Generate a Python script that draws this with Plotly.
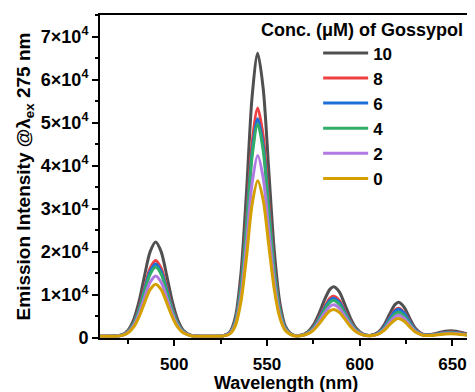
import plotly.graph_objects as go

wavelength = [460, 464, 468, 472, 475, 478, 481, 484, 487, 490, 493, 496, 499, 502, 505, 509, 514, 520,
              526, 530, 533, 536, 539, 542, 545, 548, 551, 554, 557, 560, 564, 568, 572, 575, 578, 581,
              584, 586, 589, 592, 595, 598, 602, 606, 610, 613, 616, 619, 621, 624, 627, 630, 634, 638,
              642, 646, 649, 652, 656, 660]

conc_10 = [400, 404, 455, 794, 1758, 4101, 8459, 14438, 20000, 22300, 20000, 14438, 8459, 4101, 1758, 654, 418, 400,
           479, 1418, 4933, 15051, 34104, 56048, 66100, 57822, 38769, 19979, 8087, 2700, 731, 633, 1424, 2976, 5621, 8841,
           11348, 11900, 10693, 7772, 4632, 2344, 896, 625, 1318, 2920, 5456, 7747, 8300, 7123, 4555, 2283, 900, 796,
           1167, 1579, 1700, 1579, 1167, 751]
conc_8 = [400, 404, 444, 717, 1491, 3374, 6877, 11682, 16152, 18000, 16152, 11682, 6877, 3374, 1491, 604, 414, 400,
          464, 1222, 4057, 12219, 27589, 45291, 53400, 46722, 31352, 16194, 6601, 2255, 667, 588, 1228, 2483, 4622, 7226,
          9254, 9700, 8724, 6361, 3822, 1972, 801, 584, 1155, 2474, 4560, 6445, 6900, 5932, 3819, 1948, 806, 707,
          990, 1307, 1400, 1307, 990, 670]
conc_6 = [400, 403, 442, 702, 1442, 3239, 6582, 11169, 15436, 17200, 15436, 11169, 6582, 3239, 1442, 595, 413, 400,
          461, 1183, 3885, 11662, 26307, 43174, 50900, 44537, 29892, 15449, 6309, 2168, 654, 578, 1183, 2371, 4395, 6859,
          8778, 9200, 8276, 6041, 3638, 1887, 780, 576, 1132, 2410, 4432, 6259, 6700, 5761, 3714, 1898, 787, 679,
          931, 1216, 1300, 1216, 931, 643]
conc_4 = [400, 403, 440, 690, 1398, 3121, 6325, 10720, 14810, 16500, 14810, 10720, 6325, 3121, 1398, 587, 413, 400,
          459, 1164, 3802, 11394, 25691, 42157, 49700, 43488, 29191, 15091, 6168, 2126, 648, 569, 1139, 2259, 4168, 6492,
          8302, 8700, 7829, 5720, 3454, 1803, 758, 561, 1051, 2186, 3984, 5608, 6000, 5166, 3346, 1732, 744, 648,
          872, 1126, 1200, 1126, 872, 616]
conc_2 = [400, 403, 435, 652, 1268, 2766, 5552, 9374, 12930, 14400, 12930, 9374, 5552, 2766, 1268, 562, 411, 400,
          450, 1051, 3298, 9766, 21946, 35974, 42400, 37108, 24928, 12916, 5314, 1870, 611, 548, 1050, 2035, 3714, 5758,
          7350, 7700, 6934, 5079, 3086, 1634, 715, 541, 970, 1963, 3536, 4957, 5300, 4570, 2977, 1566, 701, 617,
          813, 1035, 1100, 1035, 813, 589]
conc_0 = [400, 402, 430, 618, 1150, 2445, 4853, 8156, 11230, 12500, 11230, 8156, 4853, 2445, 1150, 540, 410, 400,
          443, 960, 2891, 8450, 18919, 30977, 36500, 31951, 21482, 11158, 4624, 1664, 582, 526, 952, 1789, 3215, 4951,
          6302, 6600, 5949, 4374, 2682, 1448, 667, 519, 877, 1708, 3024, 4213, 4500, 3889, 2557, 1376, 653, 585,
          754, 944, 1000, 944, 754, 562]

series_names = ["10", "8", "6", "4", "2", "0"]
series_values = [conc_10, conc_8, conc_6, conc_4, conc_2, conc_0]
series_colors = ["#505050", "#ee4040", "#1d6fd8", "#30ad68", "#b07ae2", "#d4a000"]

y_tickvals = [0, 10000, 20000, 30000, 40000, 50000, 60000, 70000]
y_ticktext = ["<b>0</b>"] + ["<b>%d×10<sup>4</sup></b>" % i for i in range(1, 8)]
x_tickvals = [500, 550, 600, 650]

FONT = "Liberation Sans, Arial, sans-serif"

fig = go.Figure()
for i, (name, vals, col) in enumerate(zip(series_names, series_values, series_colors)):
    fig.add_trace(go.Scatter(
        x=wavelength, y=vals, mode="lines", name="<b>%s</b>" % name,
        line=dict(color=col, width=3, shape="spline", smoothing=0.8),
        legendgroup="g%d" % i,
    ))

# page body has an 8px margin, so the figure is sized to fit the remaining window
fig.update_layout(
    width=467, height=384,
    margin=dict(l=92, r=4, t=7, b=54),
    paper_bgcolor="white", plot_bgcolor="white",
    font=dict(family=FONT, size=18, color="black"),
    showlegend=True,
    legend=dict(
        x=0.588, y=0.937, xanchor="left", yanchor="top",
        bgcolor="rgba(0,0,0,0)", borderwidth=0,
        font=dict(family=FONT, size=17, color="black"),
        tracegroupgap=0, itemwidth=45,
    ),
    annotations=[
        dict(text="<b>Conc. (μM) of Gossypol</b>", xref="paper", yref="paper",
             x=0.706, y=0.99, xanchor="center", yanchor="top", showarrow=False,
             font=dict(family=FONT, size=18, color="black")),
        dict(text="<b>Wavelength (nm)</b>", xref="paper", yref="paper",
             x=0.5, y=-0.138, xanchor="center", yanchor="middle", showarrow=False,
             font=dict(family=FONT, size=18, color="black")),
    ],
)

fig.update_xaxes(
    range=[460, 660], tickvals=x_tickvals, ticktext=["<b>%d</b>" % v for v in x_tickvals],
    showline=True, linewidth=2, linecolor="black", mirror=True,
    ticks="outside", ticklen=6, tickwidth=2, tickcolor="black", ticklabelstandoff=4,
    minor=dict(tickvals=[475, 525, 575, 625], ticks="outside", ticklen=4, tickwidth=1.5, tickcolor="black"),
    showgrid=False, zeroline=False, automargin=False,
    tickfont=dict(family=FONT, size=17, color="black"),
)
fig.update_yaxes(
    range=[0, 75000], tickvals=y_tickvals, ticktext=y_ticktext,
    showline=True, linewidth=2, linecolor="black", mirror=True,
    ticks="outside", ticklen=6, tickwidth=2, tickcolor="black",
    minor=dict(dtick=5000, ticks="outside", ticklen=3, tickwidth=1.5, tickcolor="black"),
    showgrid=False, zeroline=False, automargin=False,
    tickfont=dict(family=FONT, size=18, color="black"),
    title=dict(text="<b>Emission Intensity @λ<sub>ex</sub> 275 nm</b>", font=dict(family=FONT, size=19, color="black"), standoff=5),
)

fig.write_html("out.html")
